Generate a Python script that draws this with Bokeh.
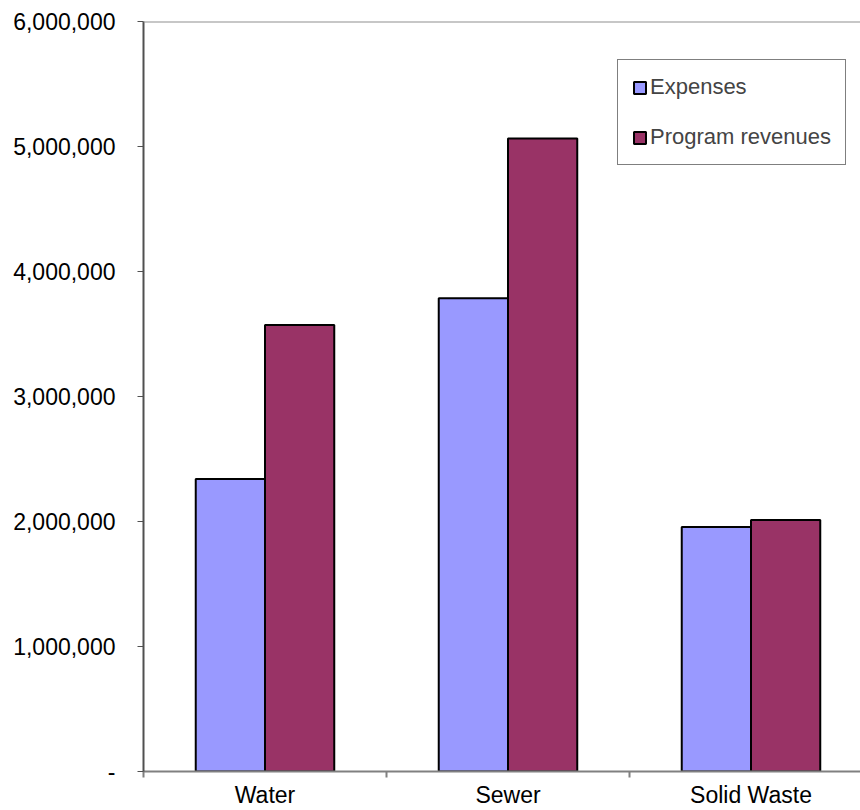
from bokeh.plotting import figure
from bokeh.models import (Range1d, FixedTicker, NumeralTickFormatter, Span,
                          Legend, LegendItem, ColumnDataSource)
from bokeh.embed import file_html
from bokeh.resources import INLINE

categories = ["Water", "Sewer", "Solid Waste"]
expenses = [2340000, 3787000, 1957000]
revenues = [3572000, 5065000, 2013000]
y_ticks = [0, 1000000, 2000000, 3000000, 4000000, 5000000, 6000000]

EXP_COLOR = "#9999FF"
REV_COLOR = "#993366"
FONT = "Liberation Sans"
BAR_W = 0.285

centers = [i + 0.5 for i in range(len(categories))]
src = ColumnDataSource(dict(
    x_exp=[c - BAR_W / 2 for c in centers],
    x_rev=[c + BAR_W / 2 for c in centers],
    exp=expenses, rev=revenues,
))

p = figure(width=860, height=810, output_backend="svg", toolbar_location=None,
           x_range=Range1d(0, 717 / 243), y_range=Range1d(0, 6000000),
           min_border_left=143, min_border_top=21, min_border_bottom=38,
           min_border_right=0)
p.outline_line_color = None
p.xgrid.grid_line_color = None
p.ygrid.grid_line_color = None
p.background_fill_color = "white"
p.border_fill_color = "white"

r1 = p.vbar(x="x_exp", top="exp", bottom=0, width=BAR_W, source=src,
            fill_color=EXP_COLOR, line_color="black", line_width=2)
r2 = p.vbar(x="x_rev", top="rev", bottom=0, width=BAR_W, source=src,
            fill_color=REV_COLOR, line_color="black", line_width=2)

# top border
p.add_layout(Span(location=6000000, dimension="width", line_color="#909090",
                  line_width=2))

# y axis
ya = p.yaxis[0]
ya.ticker = FixedTicker(ticks=y_ticks)
ya.formatter = NumeralTickFormatter(format="0,0")
ya.major_label_overrides = {0: "-"}
ya.axis_line_color = "#505050"
ya.axis_line_width = 2
ya.major_tick_line_color = "#505050"
ya.major_tick_out = 6
ya.major_tick_in = 0
ya.minor_tick_line_color = None
ya.major_label_standoff = 22
ya.major_label_text_font = FONT
ya.major_label_text_font_size = "23px"
ya.major_label_text_color = "black"

# x axis
xa = p.xaxis[0]
xa.ticker = FixedTicker(ticks=centers, minor_ticks=[0, 1, 2, 3])
xa.major_label_overrides = {c: name for c, name in zip(centers, categories)}
xa.axis_line_color = "#808080"
xa.axis_line_width = 2
xa.major_tick_line_color = None
xa.major_tick_out = 0
xa.major_tick_in = 0
xa.minor_tick_line_color = "#808080"
xa.minor_tick_line_width = 2
xa.minor_tick_out = 6
xa.minor_tick_in = 0
xa.major_label_standoff = 4
xa.major_label_text_line_height = 0.7
xa.major_label_text_font = FONT
xa.major_label_text_font_size = "23px"
xa.major_label_text_color = "black"

legend = Legend(items=[LegendItem(label="Expenses", renderers=[r1]),
                       LegendItem(label="Program revenues", renderers=[r2])],
                location=(474, 606), orientation="vertical",
                padding=14, spacing=24, label_height=26, glyph_height=15,
                glyph_width=15, label_standoff=3, margin=0,
                border_line_color="black", border_line_width=1,
                label_text_font=FONT, label_text_font_size="22px",
                background_fill_alpha=1)
p.add_layout(legend)

open("out.html", "w").write(file_html(p, INLINE))
